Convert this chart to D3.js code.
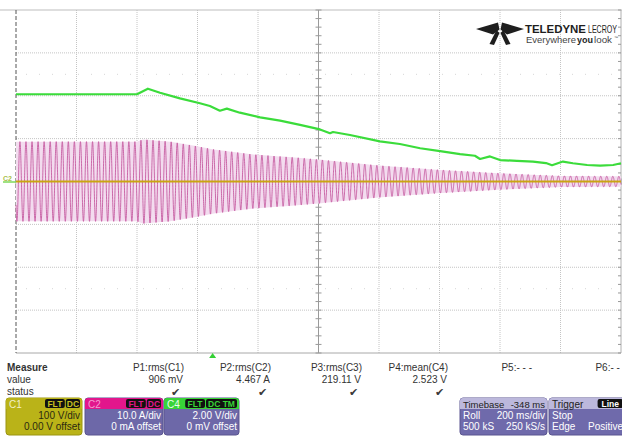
<!DOCTYPE html>
<html><head><meta charset="utf-8">
<script src="https://cdn.jsdelivr.net/npm/d3@7"></script>
<style>
body{margin:0;background:#fff;}
svg{display:block;font-family:"Liberation Sans",Arial,sans-serif;}
</style>
</head><body>
<svg id="c" width="622" height="437"></svg>
<script>
const timeTicksMs = [0,200,400,600,800,1000,1200,1400,1600,1800,2000];   // 200 ms/div
const divTicks = [-4,-3,-2,-1,0,1,2,3,4];

// C4 (green), 2.00 V/div
const c4TimeMs = [0,400,436,476,542,608,641,674,697,740,807,873,939,1005,1038,1048,1104,1203,1269,1336,1402,1468,1517,1534,1567,1600,1656,1709,1752,1772,1808,1841,1888,1931,1974,2000];
const c4Volts  = [4.07,4.07,4.33,4.14,3.88,3.65,3.52,3.30,3.40,3.21,2.99,2.84,2.64,2.43,2.25,2.31,2.17,1.87,1.75,1.55,1.42,1.28,1.20,1.05,1.17,1.00,0.96,0.93,0.86,0.76,0.93,0.85,0.77,0.74,0.77,0.85];

// C2 (magenta) 50 Hz current, 10.0 A/div : peak envelope
const c2EnvTimeMs = [0,400,420,509,600,651,783,939,1002,1203,1402,1600,1798,2000];
const c2EnvAmps   = [9.3,9.3,9.8,9.3,8.2,7.5,6.3,5.5,5.1,3.7,2.7,1.9,1.3,1.2];
const c2FreqHz = 50;

// C1 (olive) 100 V/div
const c1TimeMs = [0,2000];
const c1Volts  = [0,0];

// measurements
const measHeaders = ["P1:rms(C1)","P2:rms(C2)","P3:rms(C3)","P4:mean(C4)","P5:- - -","P6:- - -"];
const measValues  = ["906 mV","4.467 A","219.11 V","2.523 V","",""];
const measStatus  = [true,true,true,true,false,false];

// ---------- layout ----------
const svg = d3.select("#c");
const L = 16, R = 621, T = 10, B = 353;
const x = d3.scaleLinear().domain([0,2000]).range([L,R]);
const yDiv = d3.scaleLinear().domain([-4,4]).range([B,T]);
const y4 = d3.scaleLinear().domain([-8,8]).range([B,T]);
const y2 = d3.scaleLinear().domain([-40,40]).range([B,T]);
const y1 = d3.scaleLinear().domain([-400,400]).range([B,T]);

// grid
const g = svg.append("g");
g.selectAll("line.v").data(timeTicksMs.slice(1,-1)).join("line")
  .attr("x1",d=>x(d)).attr("x2",d=>x(d)).attr("y1",T).attr("y2",B)
  .attr("stroke","#c4c4c4").attr("stroke-dasharray","1,1");
g.selectAll("line.h").data(divTicks.slice(1,-1)).join("line")
  .attr("y1",d=>yDiv(d)).attr("y2",d=>yDiv(d)).attr("x1",L).attr("x2",R)
  .attr("stroke","#c4c4c4").attr("stroke-dasharray","1,1");
g.selectAll("line.s").data([2.5,-2.5]).join("line")
  .attr("y1",d=>yDiv(d)).attr("y2",d=>yDiv(d)).attr("x1",L+10).attr("x2",R)
  .attr("stroke","#d6d6d6").attr("stroke-dasharray","1,12");
// frame
g.append("line").attr("x1",0).attr("x2",622).attr("y1",T).attr("y2",T).attr("stroke","#bdbdbd");
g.append("line").attr("x1",L).attr("x2",R).attr("y1",B).attr("y2",B).attr("stroke","#a8a8a8");
g.append("line").attr("x1",L).attr("x2",L).attr("y1",T).attr("y2",B).attr("stroke","#555").attr("stroke-dasharray","4,2");
g.append("line").attr("x1",R).attr("x2",R).attr("y1",T).attr("y2",B).attr("stroke","#b0b0b0");
const minorY = d3.range(-4,4.001,0.2);
g.selectAll("line.cy").data(minorY).join("line")
  .attr("x1",x(1000)-3).attr("x2",x(1000)+3).attr("y1",d=>yDiv(d)).attr("y2",d=>yDiv(d))
  .attr("stroke","#999");
g.selectAll("line.ry").data(minorY).join("line")
  .attr("x1",R-3).attr("x2",R).attr("y1",d=>yDiv(d)).attr("y2",d=>yDiv(d))
  .attr("stroke","#999");
g.append("line").attr("x1",x(1000)).attr("x2",x(1000)).attr("y1",T).attr("y2",B).attr("stroke","#9a9a9a");
const minorX = d3.range(0,2000.1,40);
g.selectAll("line.cx").data(minorX).join("line")
  .attr("y1",yDiv(0)-3).attr("y2",yDiv(0)+3).attr("x1",d=>x(d)).attr("x2",d=>x(d))
  .attr("stroke","#999");

// ---------- traces ----------
const env = d3.scaleLinear().domain(c2EnvTimeMs).range(c2EnvAmps);
const envT = d3.range(0,2000.1,10);
svg.append("path").datum(envT)
  .attr("d", d3.area().x(t=>x(t)).y0(t=>y2(-env(t))).y1(t=>y2(env(t))))
  .attr("fill","#f3dcef");
const phase = -2.513;
const c2T = d3.range(0,2000.01,0.25);
svg.append("path").datum(c2T)
  .attr("d", d3.line().x(t=>x(t)).y(t=>y2(env(t)*Math.sin(2*Math.PI*c2FreqHz*t/1000+phase))))
  .attr("fill","none").attr("stroke","#c04b97").attr("stroke-width",0.8);

// C1
svg.append("path").datum(d3.zip(c1TimeMs,c1Volts))
  .attr("d", d3.line().x(d=>x(d[0])).y(d=>y1(d[1])))
  .attr("stroke","#c9a512").attr("stroke-width",2.2).attr("fill","none");

// C4
svg.append("path").datum(d3.zip(c4TimeMs,c4Volts))
  .attr("d", d3.line().x(d=>x(d[0])).y(d=>y4(d[1])))
  .attr("stroke","#3bdc3b").attr("stroke-width",2.2).attr("fill","none").attr("stroke-linejoin","round");

// channel marker at left
svg.append("line").attr("x1",3).attr("x2",L).attr("y1",yDiv(0)+0.5).attr("y2",yDiv(0)+0.5).attr("stroke","#7ed85a").attr("stroke-width",1.5);
svg.append("text").attr("x",3).attr("y",yDiv(0)-1).text("C2").attr("font-size",7).attr("font-weight","bold").attr("fill","#a9c04a");

// trigger marker
svg.append("path").attr("d",`M${x(650)-3.5},${B+5}L${x(650)},${B}L${x(650)+3.5},${B+5}Z`).attr("fill","#35d035");

// ---------- logo ----------
const lg = svg.append("g").attr("fill","#1e1e1e");
lg.append("path").attr("d","M476,29 L498,22.5 L499.5,29.5 L493,34.5 Z");
lg.append("path").attr("d","M524,29 L502,22.5 L500.5,29.5 L507,34.5 Z");
lg.append("path").attr("d","M496.5,30 L499.5,33 L494,45 L489.5,44 Z");
lg.append("path").attr("d","M503.5,30 L500.5,33 L506,45 L510.5,44 Z");
lg.append("text").attr("x",525).attr("y",32.5).attr("font-size",11.5).attr("font-weight","bold")
  .attr("textLength",61).attr("lengthAdjust","spacingAndGlyphs").text("TELEDYNE");
lg.append("text").attr("x",588).attr("y",32.5).attr("font-size",11.5)
  .attr("textLength",29).attr("lengthAdjust","spacingAndGlyphs").text("LECROY");
lg.append("text").attr("x",526).attr("y",43).attr("font-size",9).attr("fill","#444")
  .attr("textLength",50).attr("lengthAdjust","spacingAndGlyphs").text("Everywhere");
lg.append("text").attr("x",577).attr("y",43).attr("font-size",9).attr("font-weight","bold")
  .attr("textLength",16).attr("lengthAdjust","spacingAndGlyphs").text("you");
lg.append("text").attr("x",594).attr("y",43).attr("font-size",9).attr("fill","#444")
  .attr("textLength",18).attr("lengthAdjust","spacingAndGlyphs").text("look");
lg.append("text").attr("x",614).attr("y",39).attr("font-size",4).attr("fill","#444").text("™");

// ---------- measure table ----------
const mt = svg.append("g").attr("font-size",10).attr("fill","#333");
mt.append("text").attr("x",7).attr("y",371).attr("font-weight","bold").text("Measure");
mt.append("text").attr("x",7).attr("y",383).text("value");
mt.append("text").attr("x",7).attr("y",395).text("status");
const colRight = [184,271,362,448,532,626];
measHeaders.forEach((h,i)=>{
  mt.append("text").attr("x",colRight[i]).attr("y",371).attr("text-anchor","end").text(h);
  if(measValues[i]) mt.append("text").attr("x",colRight[i]-1).attr("y",383).attr("text-anchor","end").text(measValues[i]);
  if(measStatus[i]) mt.append("text").attr("x",colRight[i]-4).attr("y",396).attr("text-anchor","end").attr("font-size",11).attr("fill","#3a3a3a").text("✔");
});

// ---------- channel boxes ----------
function badge(gr, xr, y, labels, fg){
  let xx = xr;
  for(let i=labels.length-1;i>=0;i--){
    const w = labels[i].length*5.6+3;
    xx -= w;
    gr.append("rect").attr("x",xx).attr("y",y).attr("width",w).attr("height",9).attr("rx",2).attr("fill","#111");
    gr.append("text").attr("x",xx+w/2).attr("y",y+7.5).attr("text-anchor","middle").attr("font-size",8.5).attr("font-weight","bold").attr("fill",fg).text(labels[i]);
    xx -= 1;
  }
}
function box(o){
  const gr = svg.append("g");
  const hf = o.headSize || 10;
  gr.append("rect").attr("x",o.x).attr("y",398).attr("width",o.w).attr("height",37).attr("rx",3).attr("fill",o.body).attr("stroke",o.edge).attr("stroke-width",1);
  gr.append("path").attr("d",`M${o.x},409 V401 Q${o.x},398 ${o.x+3},398 H${o.x+o.w-3} Q${o.x+o.w},398 ${o.x+o.w},401 V409 Z`).attr("fill",o.head);
  gr.append("text").attr("x",o.x+3).attr("y",407.5).attr("font-size",hf).attr("fill",o.labelColor).text(o.label);
  if(o.headRight) gr.append("text").attr("x",o.x+o.w-2).attr("y",407.5).attr("font-size",hf).attr("text-anchor","end").attr("fill",o.labelColor).text(o.headRight);
  if(o.badges) badge(gr, o.x+o.w-2, 399, o.badges, o.badgeFg);
  o.lines.forEach((ln,i)=>{
    const yy = 418.5+i*11.5;
    if(ln[0]) gr.append("text").attr("x",o.x+3).attr("y",yy).attr("font-size",10).attr("fill",o.text).text(ln[0]);
    if(ln[1]) gr.append("text").attr("x",o.x+o.w-2).attr("y",yy).attr("font-size",10).attr("text-anchor","end").attr("fill",o.text).text(ln[1]);
  });
}
box({x:6,w:76,head:"#bab318",body:"#bab318",edge:"#9a9410",label:"C1",labelColor:"#f2f0c8",badges:["FLT","DC"],badgeFg:"#c8c020",text:"#2a2a10",lines:[["","100 V/div"],["","0.00 V offset"]]});
box({x:85,w:78,head:"#e2168c",body:"#6d68a8",edge:"#5a5590",label:"C2",labelColor:"#f59ad0",badges:["FLT","DC"],badgeFg:"#e2168c",text:"#fff",lines:[["","10.0 A/div"],["","0 mA offset"]]});
box({x:164,w:75,head:"#38d438",body:"#6d68a8",edge:"#5a5590",label:"C4",labelColor:"#eaffea",badges:["FLT","DC TM"],badgeFg:"#38d438",text:"#fff",lines:[["","2.00 V/div"],["","0 mV offset"]]});
box({x:460,w:87,head:"#bcb8dc",body:"#6f6aab",edge:"#5a5590",label:"Timebase",headSize:9.5,labelColor:"#222",headRight:"-348 ms",text:"#fff",lines:[["Roll","200 ms/div"],["500 kS","250 kS/s"]]});
box({x:549,w:76,head:"#bcb8dc",body:"#6f6aab",edge:"#5a5590",label:"Trigger",labelColor:"#222",badges:["Line"],badgeFg:"#fff",text:"#fff",lines:[["Stop",""],["Edge","Positive"]]});
</script>
</body></html>
